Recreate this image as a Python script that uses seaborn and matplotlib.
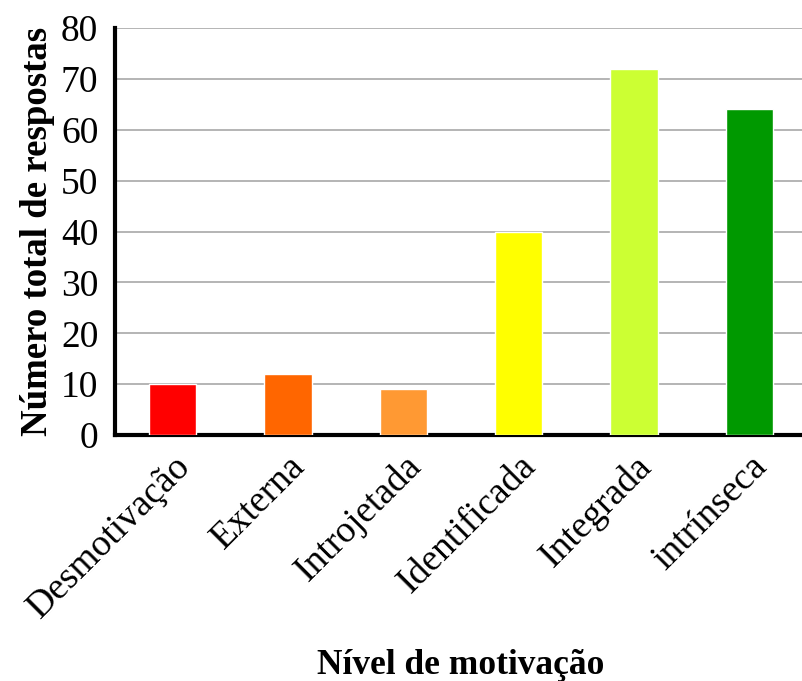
import numpy as np
import pandas as pd
import matplotlib
matplotlib.use("Agg")
import matplotlib.pyplot as plt
import seaborn as sns

# dados
categorias = ["Desmotivação", "Externa", "Introjetada", "Identificada", "Integrada", "intrínseca"]
respostas = [10, 12, 9, 40, 72, 64]
cores = ["#ff0000", "#ff6600", "#ff9933", "#ffff00", "#ccff33", "#009900"]

sns.set_style("white")
plt.rcParams['font.family'] = ['Liberation Serif', 'DejaVu Serif']
plt.rcParams['text.color'] = 'black'
plt.rcParams['axes.labelcolor'] = 'black'
plt.rcParams['xtick.color'] = 'black'
plt.rcParams['ytick.color'] = 'black'

df = pd.DataFrame({"nivel": categorias, "total": respostas})

fig = plt.figure(figsize=(8.03, 6.81), dpi=100)
ax = fig.add_axes([0.1432, 0.3612, 0.8618, 0.5977])

sns.barplot(data=df, x="nivel", y="total", hue="nivel", palette=cores,
            width=0.41, legend=False, ax=ax, saturation=1, zorder=3)

ax.set_ylim(0, 80)
ax.set_xlim(-0.5, 5.5)
ax.set_yticks(np.arange(0, 81, 10))
ax.yaxis.grid(True, color="#a0a0a0", linewidth=1.1, zorder=0)
ax.set_axisbelow(True)

for s in ["top", "right"]:
    ax.spines[s].set_visible(False)
for s in ["left", "bottom"]:
    ax.spines[s].set_linewidth(3)
    ax.spines[s].set_color("black")

# ticks do eixo x entre as categorias
ax.set_xticks(np.arange(-0.5, 6.0, 1.0), minor=True)
ax.tick_params(axis="x", which="major", length=0, pad=10)
ax.tick_params(axis="x", which="minor", length=7, width=3, color="black", direction="out")
ax.tick_params(axis="y", length=7, width=3, color="black", direction="out", labelsize=27, pad=5)
ax.set_xticklabels(categorias, rotation=45, ha="right", rotation_mode="anchor", fontsize=27)

ax.set_ylabel("Número total de respostas", fontsize=26.5, fontweight="bold", labelpad=4)
ax.set_xlabel("Nível de motivação", fontsize=25.5, fontweight="bold")
ax.xaxis.set_label_coords(0.5, -0.525)

fig.savefig("out.png", dpi=100)
